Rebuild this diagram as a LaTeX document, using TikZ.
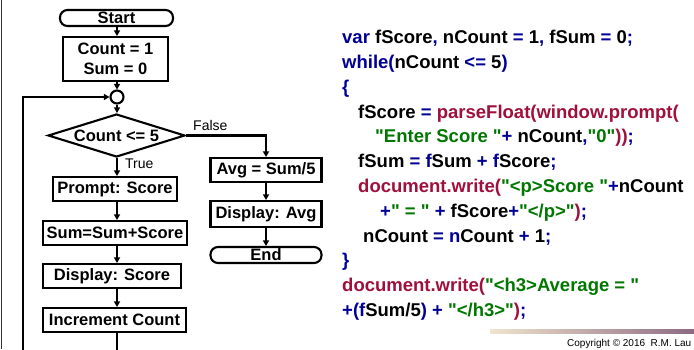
\documentclass[tikz,border=0pt]{standalone}
\usepackage{fontspec}
\setmainfont{Liberation Sans}[Ligatures=TeXOff]
\usetikzlibrary{arrows.meta,shapes.geometric}
\definecolor{kwblue}{RGB}{0,0,150}
\definecolor{fnred}{RGB}{160,16,60}
\definecolor{strgreen}{RGB}{0,120,0}
\definecolor{barleft}{RGB}{240,228,205}
\definecolor{barmid}{RGB}{200,165,120}
\definecolor{barright}{RGB}{140,105,130}
% syntax colouring for the JavaScript listing
\newcommand{\ckw}[1]{\textcolor{kwblue}{#1}}
\newcommand{\cfn}[1]{\textcolor{fnred}{#1}}
\newcommand{\cstr}[1]{\textcolor{strgreen}{#1}}
\begin{document}
\begin{tikzpicture}[x=1pt,y=-1pt,
  flow/.style={line width=2.1pt},
  arr/.style={flow,-{Triangle[length=5.5pt,width=6pt]}},
  box/.style={draw,line width=2.1pt,rectangle,inner sep=0pt,
    font=\fontsize{16.5}{19.5}\selectfont\bfseries,align=center},
  term/.style={box,rounded corners=7.5pt},
  decision/.style={draw,line width=2.1pt,diamond,aspect=3.2,inner sep=0pt,
    font=\fontsize{16.5}{19.5}\selectfont\bfseries},
  junction/.style={draw,line width=2.1pt,circle,inner sep=0pt,minimum size=13pt},
  code/.style={anchor=base west,inner sep=0pt,font=\fontsize{18.5}{22}\selectfont\bfseries},
  lbl/.style={inner sep=0pt,font=\fontsize{14}{16}\selectfont}
]
\fill[white] (0,0) rectangle (694,349);
\useasboundingbox (0,0) rectangle (694,349);
\draw[line width=1pt,black!80] (1,0) -- (1,349);

% ---- flowchart: main column ----
\node[term,minimum width=113pt,minimum height=16pt] (start) at (116.5,18) {Start};
\node[box,minimum width=105pt,minimum height=44pt] (init) at (115.5,59) {Count = 1\\Sum = 0};
\node[junction] (circ) at (117,97) {};
\node[decision,minimum width=137pt,minimum height=43pt] (dia) at (116.5,135.5) {Count <= 5};
\node[box,minimum width=124pt,minimum height=24pt] (prompt) at (115,189) {Prompt: Score};
\node[box,minimum width=144pt,minimum height=24pt] (sum) at (115,233) {Sum=Sum+Score};
\node[box,minimum width=138pt,minimum height=24pt] (disp) at (112,276) {Display: Score};
\node[box,minimum width=143pt,minimum height=24pt] (inc) at (114.5,320) {Increment Count};

% ---- flowchart: exit column ----
\node[box,minimum width=111pt,minimum height=24pt] (avg) at (266,170) {Avg = Sum/5};
\node[box,minimum width=111pt,minimum height=26pt] (davg) at (266,214) {Display: Avg};
\node[term,minimum width=111pt,minimum height=16pt] (end) at (266,255) {End};

% ---- connectors ----
\draw[arr] (start.south -| circ) -- (init.north -| circ);
\draw[arr] (init.south -| circ) -- (circ.north);
\draw[arr] (circ.south) -- (dia.north -| circ);
\draw[arr] (dia.south -| circ) -- (prompt.north -| circ);
\draw[arr] (prompt.south -| circ) -- (sum.north -| circ);
\draw[arr] (sum.south -| circ) -- (disp.north -| circ);
\draw[arr] (disp.south -| circ) -- (inc.north -| circ);
\coordinate (flowbot) at (117,352);
\coordinate (loopbot) at (23,352);
\draw[flow] (inc.south -| circ) -- (flowbot);
\draw[arr] (loopbot) |- (circ.west);
\draw[arr] (dia.east) -| (avg.north);
\draw[arr] (avg.south) -- (davg.north);
\draw[arr] (davg.south) -- (end.north);
\node[lbl,anchor=west] (tlbl) at (125,164) {True};
\node[lbl,anchor=base west] (flbl) at (193,130) {False};

% ---- JavaScript listing ----
\node[code] (c0) at (342,43.6) {\ckw{var} fScore\ckw{,} nCount \ckw{=} 1\ckw{,} fSum \ckw{=} 0\ckw{;}};
\node[code] (c1) at (342,68.4) {\ckw{while(}nCount \ckw{<=} 5\ckw{)}};
\node[code] (c2) at (342,93.2) {\ckw{\{}};
\node[code] (c3) at (358,118) {fScore \ckw{=} \cfn{parseFloat(window.prompt(}};
\node[code] (c4) at (375,142.8) {\cstr{"Enter Score "}\ckw{+} nCount\ckw{,}\cstr{"0"}\cfn{))}\ckw{;}};
\node[code] (c5) at (358,167.6) {fSum \ckw{=} \ckw{f}Sum \ckw{+} \ckw{f}Score\ckw{;}};
\node[code] (c6) at (358,192.4) {\cfn{document.write(}\cstr{"<p>Score "}\ckw{+}nCount};
\node[code] (c7) at (380,217.2) {\ckw{+}\cstr{" = "} \ckw{+} fScore\ckw{+}\cstr{"</p>"}\cfn{)}\ckw{;}};
\node[code] (c8) at (363,242) {nCount \ckw{=} \ckw{n}Count \ckw{+} 1\ckw{;}};
\node[code] (c9) at (342,266.8) {\ckw{\}}};
\node[code] (c10) at (342,291.6) {\cfn{document.write(}\cstr{"<h3>Average = "}};
\node[code] (c11) at (342,316.4) {\ckw{+(f}Sum/5\ckw{)} \ckw{+} \cstr{"</h3>"}\cfn{)}\ckw{;}};

% ---- footer ----
\shade[left color=barleft,middle color=barmid,right color=barright] (490,329) rectangle (694,333);
\node[anchor=base west,inner sep=0pt,font=\fontsize{10}{12}\selectfont] (copy) at (567,346.5)
  {Copyright © 2016\hspace{2.8pt} R.M. Lau};
\end{tikzpicture}
\end{document}
